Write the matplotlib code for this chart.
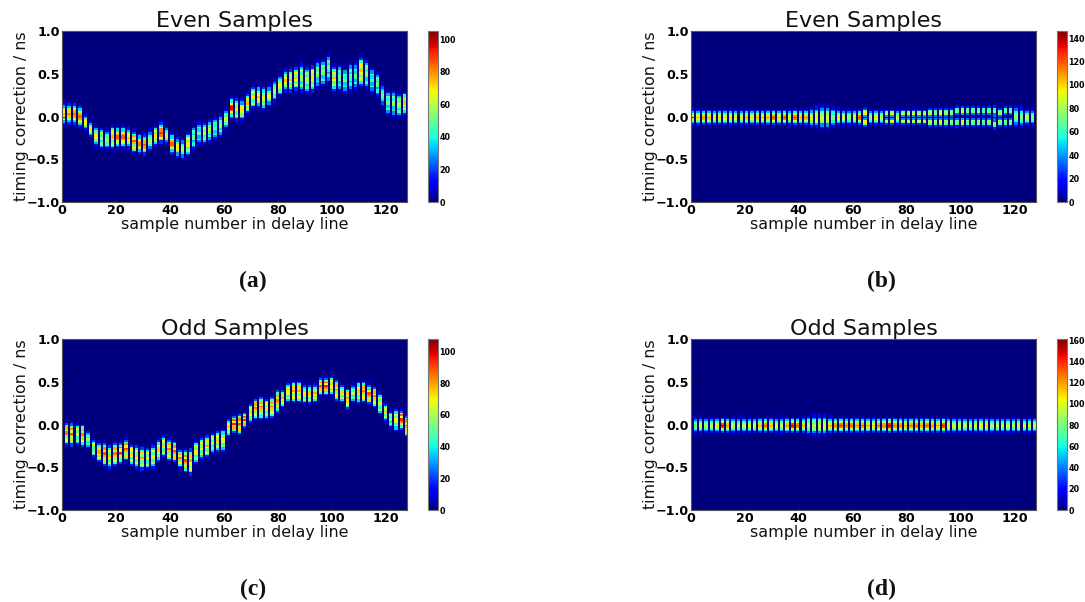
import numpy as np
import matplotlib
matplotlib.use("Agg")
import matplotlib.pyplot as plt

# per column readings, one column every 2 samples, 64 columns in each panel
center_a = [.03,.03,.03,0,-.07,-.15,-.23,-.26,
            -.27,-.25,-.24,-.24,-.25,-.30,-.32,-.33,
            -.28,-.23,-.19,-.22,-.32,-.36,-.38,-.33,
            -.25,-.20,-.20,-.17,-.14,-.11,-.03,.10,
            .08,.08,.15,.22,.23,.21,.24,.30,
            .36,.42,.42,.44,.45,.42,.44,.49,
            .51,.56,.44,.45,.42,.46,.47,.52,
            .49,.42,.37,.25,.16,.15,.13,.15]
halfw_a = [.15,.14,.14,.14,.11,.11,.13,.13,
           .13,.15,.14,.14,.14,.14,.13,.14,
           .13,.13,.14,.12,.13,.13,.13,.15,
           .15,.15,.13,.14,.14,.14,.13,.13,
           .15,.14,.13,.14,.15,.14,.14,.15,
           .14,.15,.15,.15,.19,.17,.17,.17,
           .17,.18,.16,.17,.16,.18,.17,.18,
           .19,.16,.15,.15,.16,.17,.15,.14]
peak_a = [75,80,85,85,70,70,70,60,
          60,75,85,85,75,85,80,85,
          60,70,90,60,85,70,60,70,
          50,50,65,60,55,55,65,95,
          70,70,75,70,75,70,65,60,
          65,75,75,75,60,60,70,55,
          55,50,75,55,55,50,50,75,
          55,50,50,50,55,55,60,75]
shape_a = "bbbbbbbsbsbbbsbbbsbbbbbsssssssbb" + "sbssbsbbbbsssssssssssssssssbssss"

center_b = [-.01,-.01,-.01,-.01,-.01,-.01,-.01,-.01,
            -.01,-.01,-.01,-.01,-.01,-.01,-.01,-.01,
            -.01,-.01,-.01,-.01,-.01,-.01,-.01,-.01,
            -.01,-.01,-.01,-.01,-.01,-.01,-.01,-.01,
            -.01,-.01,-.01,-.01,-.01,-.01,-.01,-.01,
            -.01,-.01,-.01,-.01,-.01,-.01,-.01,-.01,
            -.01,0,0,0,0,0,0,0,
            -.01,-.01,0,0,0,-.01,-.01,-.01]
halfw_b = [.11,.10,.09,.09,.09,.09,.09,.10,
           .09,.11,.10,.09,.09,.09,.09,.09,
           .09,.09,.10,.10,.10,.10,.12,.14,
           .15,.15,.13,.11,.10,.10,.10,.10,
           .13,.10,.10,.10,.11,.11,.11,.11,
           .11,.11,.11,.11,.13,.12,.13,.13,
           .13,.15,.13,.13,.13,.13,.13,.14,
           .16,.13,.13,.13,.13,.14,.10,.11]
peak_b = [105,105,115,110,100,105,100,105,
          100,95,110,100,110,105,110,125,
          105,125,100,125,110,115,100,100,
          90,95,80,100,95,85,100,125,
          90,85,100,90,85,90,90,85,
          85,90,85,85,80,75,85,75,
          75,70,95,75,75,75,70,75,
          75,75,75,75,80,75,90,80]
shape_b = "bbbbbbbbbbbbbbbbbbbbbbbbbbbbbbbb" + "dbbbddbdddddddddddddddddddddbbbb"

center_c = [-.11,-.12,-.12,-.13,-.18,-.27,-.33,-.35,
            -.38,-.35,-.34,-.30,-.36,-.38,-.40,-.40,
            -.38,-.31,-.26,-.30,-.32,-.40,-.43,-.44,
            -.33,-.28,-.26,-.22,-.20,-.19,-.04,.01,
            0,.05,.13,.18,.19,.18,.20,.27,
            .30,.37,.38,.38,.35,.35,.36,.44,
            .44,.45,.40,.36,.30,.36,.37,.38,
            .35,.32,.24,.14,.06,.05,.05,-.02]
halfw_c = [.15,.15,.14,.14,.11,.11,.13,.15,
           .15,.15,.14,.14,.13,.15,.15,.14,
           .15,.14,.14,.14,.13,.12,.14,.17,
           .15,.14,.14,.13,.13,.14,.12,.11,
           .13,.10,.12,.13,.14,.13,.13,.14,
           .12,.13,.13,.13,.13,.12,.12,.12,
           .12,.13,.13,.12,.13,.12,.14,.13,
           .13,.13,.14,.12,.12,.14,.13,.13]
peak_c = [85,90,70,85,60,75,80,90,
          75,85,95,90,75,75,80,70,
          70,75,75,85,90,85,90,80,
          70,75,80,65,75,70,75,95,
          90,95,75,85,85,70,85,85,
          80,70,80,80,70,75,80,90,
          95,75,85,75,80,65,75,85,
          90,85,70,75,60,70,95,90]
shape_c = "s" * 64

center_d = [-.01] * 64
halfw_d = [.11,.11,.09,.09,.09,.09,.09,.10,
           .11,.11,.09,.09,.09,.09,.09,.11,
           .11,.09,.09,.09,.10,.13,.14,.14,
           .14,.11,.09,.09,.09,.09,.09,.10,
           .09,.09,.09,.09,.09,.09,.09,.09,
           .09,.09,.09,.09,.09,.09,.09,.09,
           .09,.09,.09,.09,.09,.09,.10,.09,
           .09,.09,.09,.09,.09,.09,.09,.09]
peak_d = [90,105,95,95,110,150,125,100,
          95,100,105,105,120,135,120,105,
          100,125,150,135,120,100,95,100,
          105,120,130,140,130,135,125,130,
          120,115,130,130,155,130,130,120,
          130,135,125,135,125,120,145,110,
          105,105,100,95,105,110,115,95,
          100,95,100,95,110,100,100,100]
shape_d = "b" * 64

# count fraction across a column, lookup tables
profiles = {
    "b": [.06,.2,.42,.72,.92,1,.9,.7,.42,.2,.06],
    "s": [.05,.22,.5,.82,.62,.88,1,.72,.92,.55,.25,.07],
    "d": [.04,.3,.85,1,.45,.1,.45,1,.85,.3,.04],
}

titles = ["Even Samples", "Even Samples", "Odd Samples", "Odd Samples"]
letters = ["(a)", "(b)", "(c)", "(d)"]
vmaxes = [105, 146, 108, 161]
cbar_ticks = [range(0, 101, 20), range(0, 141, 20), range(0, 101, 20), range(0, 161, 20)]
first_sample = [0, 0, 1, 1]
xticks = [0, 20, 40, 60, 80, 100, 120]
yticks = [-1.0, -0.5, 0.0, 0.5, 1.0]
panels = [(center_a, halfw_a, peak_a, shape_a),
          (center_b, halfw_b, peak_b, shape_b),
          (center_c, halfw_c, peak_c, shape_c),
          (center_d, halfw_d, peak_d, shape_d)]

W, H = 1085, 602
ax_lefts = [62, 691, 62, 691]
ax_tops = [31, 31, 339, 339]
ax_w, ax_h = 345, 171
letter_x = [253, 881, 253, 881]
letter_y = [281, 281, 589, 589]

def build_grid(center, halfw, peak, shape, start):
    # quarter sample wide cells, a column covers 5 of them
    grid = np.zeros((100, 512))
    rows = -1 + (np.arange(100) + 0.5) * 0.02
    for k in range(64):
        table = profiles[shape[k]]
        n = len(table)
        pos = (rows - center[k]) / halfw[k]
        idx = np.round((pos + 1) / 2 * (n - 1)).astype(int)
        inside = (idx >= 0) & (idx < n)
        col = 4 * (start + 2 * k)
        grid[inside, col:col + 5] = (peak[k] * np.array(table)[idx[inside]])[:, None]
    return grid

fig = plt.figure(figsize=(W / 100, H / 100), dpi=100)

for i in range(4):
    center, halfw, peak, shape = panels[i]
    grid = build_grid(center, halfw, peak, shape, first_sample[i])

    ax = fig.add_axes([ax_lefts[i] / W, 1 - (ax_tops[i] + ax_h) / H, ax_w / W, ax_h / H])
    im = ax.imshow(grid, origin="lower", extent=[0, 128, -1, 1], aspect="auto",
                   cmap="jet", vmin=0, vmax=vmaxes[i], interpolation="nearest")
    ax.set_xlim(0, 128)
    ax.set_ylim(-1, 1)
    ax.set_xticks(xticks)
    ax.set_yticks(yticks)
    ax.tick_params(direction="in", length=2, width=0.6, pad=1.5, labelsize=9.2, color="#222222")
    for lab in ax.get_xticklabels() + ax.get_yticklabels():
        lab.set_fontweight("bold")
    for sp in ax.spines.values():
        sp.set_linewidth(0.8)
        sp.set_color("#555555")
    ax.set_title(titles[i], fontsize=16, pad=1.5, color="#111111")
    ax.set_xlabel("sample number in delay line", fontsize=11.4, color="#111111", va="center")
    ax.xaxis.set_label_coords(0.5, -0.129)
    ax.set_ylabel("timing correction / ns", fontsize=11.4, color="#111111", va="center")
    ax.yaxis.set_label_coords(-0.116, 0.5)

    cax = fig.add_axes([(ax_lefts[i] + 366) / W, 1 - (ax_tops[i] + ax_h) / H, 9.5 / W, ax_h / H])
    cb = fig.colorbar(im, cax=cax, ticks=list(cbar_ticks[i]))
    cb.ax.tick_params(length=0, pad=1.5, labelsize=5.8)
    for lab in cb.ax.get_yticklabels():
        lab.set_fontweight("bold")
    cb.outline.set_linewidth(0.8)
    cb.outline.set_edgecolor("#777777")

    fig.text(letter_x[i] / W, 1 - letter_y[i] / H, letters[i], ha="center", va="center",
             fontsize=17, fontweight="bold", family="Liberation Serif", color="#111111")

fig.savefig("out.png", dpi=100)
